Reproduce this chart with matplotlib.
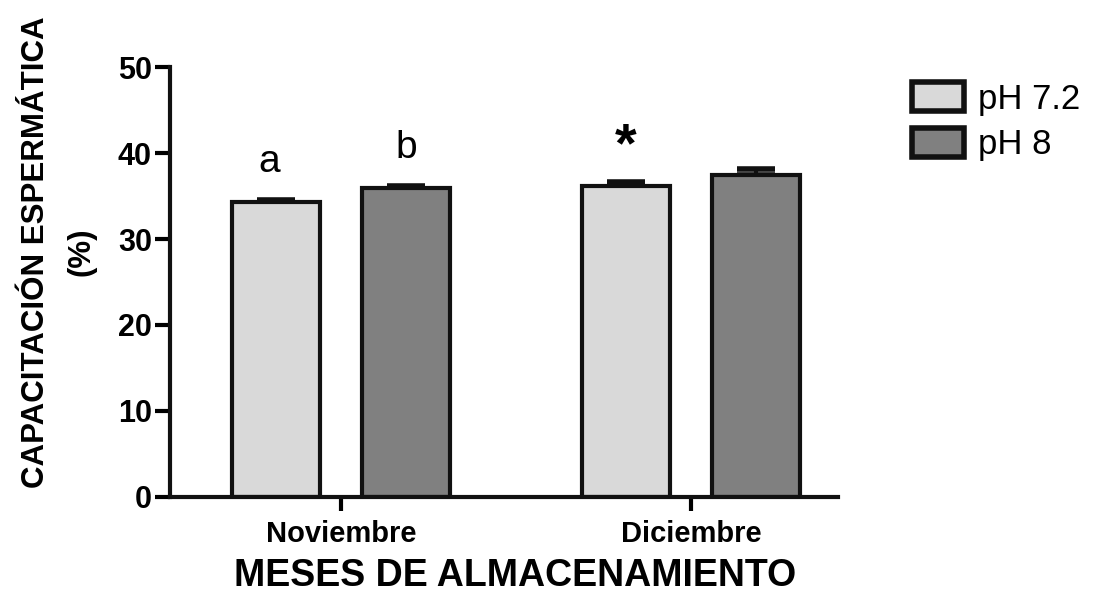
import numpy as np
import matplotlib.pyplot as plt
from matplotlib.patches import Patch

plt.rcParams['font.family'] = ['Liberation Sans', 'DejaVu Sans']

meses = ['Noviembre', 'Diciembre']
ph72 = [34.3, 36.2]
ph72_err = [0.3, 0.5]
ph8 = [36.0, 37.4]
ph8_err = [0.2, 0.7]
marcas = ['a', '*']
marcas_ph8 = ['b', '']

fig = plt.figure(figsize=(11.03, 5.95), dpi=100)
ax = fig.add_axes([0.154, 0.165, 0.606, 0.722])

x = np.arange(len(meses))
w = 0.251
off = 0.186
lw = 3

ax.bar(x - off, ph72, w, color='#d9d9d9', edgecolor='#111111', linewidth=lw, zorder=2)
ax.bar(x + off, ph8, w, color='#808080', edgecolor='#111111', linewidth=lw, zorder=2)
ax.errorbar(x - off, ph72, yerr=[np.zeros(2), ph72_err], fmt='none', ecolor='#111111',
            elinewidth=lw, capsize=14, capthick=lw + 1, zorder=1)
ax.errorbar(x + off, ph8, yerr=[np.zeros(2), ph8_err], fmt='none', ecolor='#111111',
            elinewidth=lw, capsize=14, capthick=lw + 1, zorder=1)

# letras de significancia
for i in range(len(meses)):
    m = marcas[i]
    if m == '*':
        ax.text(x[i] - off, ph72[i] + ph72_err[i] + 1.0, m, ha='center', va='bottom',
                fontsize=40, fontweight='bold')
    else:
        ax.text(x[i] - off - 0.02, ph72[i] + ph72_err[i] + 2.3, m, ha='center', va='bottom',
                fontsize=28)
    if marcas_ph8[i]:
        ax.text(x[i] + off, ph8[i] + ph8_err[i] + 2.3, marcas_ph8[i], ha='center', va='bottom',
                fontsize=28)

ax.set_xlim(-0.489, 1.42)
ax.set_ylim(0, 50)
ax.set_yticks([0, 10, 20, 30, 40, 50])
ax.set_xticks(x)
ax.set_xticklabels(meses, fontsize=21, fontweight='bold')
for t in ax.get_yticklabels():
    t.set_fontsize(22)
    t.set_fontweight('bold')
ax.tick_params(axis='y', length=11, width=lw, pad=2)
ax.tick_params(axis='x', length=10, width=lw, pad=7)

for s in ['top', 'right']:
    ax.spines[s].set_visible(False)
for s in ['left', 'bottom']:
    ax.spines[s].set_linewidth(lw)
    ax.spines[s].set_color('#111111')

ax.set_ylabel('CAPACITACIÓN ESPERMÁTICA\n(%)', fontsize=22.5, fontweight='bold',
              linespacing=1.65, va='center', ha='center')
ax.yaxis.set_label_coords(-0.166, 0.57)
ax.set_xlabel('MESES DE ALMACENAMIENTO', fontsize=27, fontweight='bold')
ax.xaxis.set_label_coords(0.516, -0.142)

handles = [Patch(facecolor='#d9d9d9', edgecolor='#111111', linewidth=lw + 1, label='pH 7.2'),
           Patch(facecolor='#808080', edgecolor='#111111', linewidth=lw + 1, label='pH 8')]
fig.legend(handles=handles, loc='upper left', bbox_to_anchor=(0.814, 0.885), frameon=False,
           fontsize=25, handlelength=1.5, handleheight=0.9, handletextpad=0.4,
           labelspacing=0.35, borderaxespad=0)

fig.savefig('out.png', dpi=100)
